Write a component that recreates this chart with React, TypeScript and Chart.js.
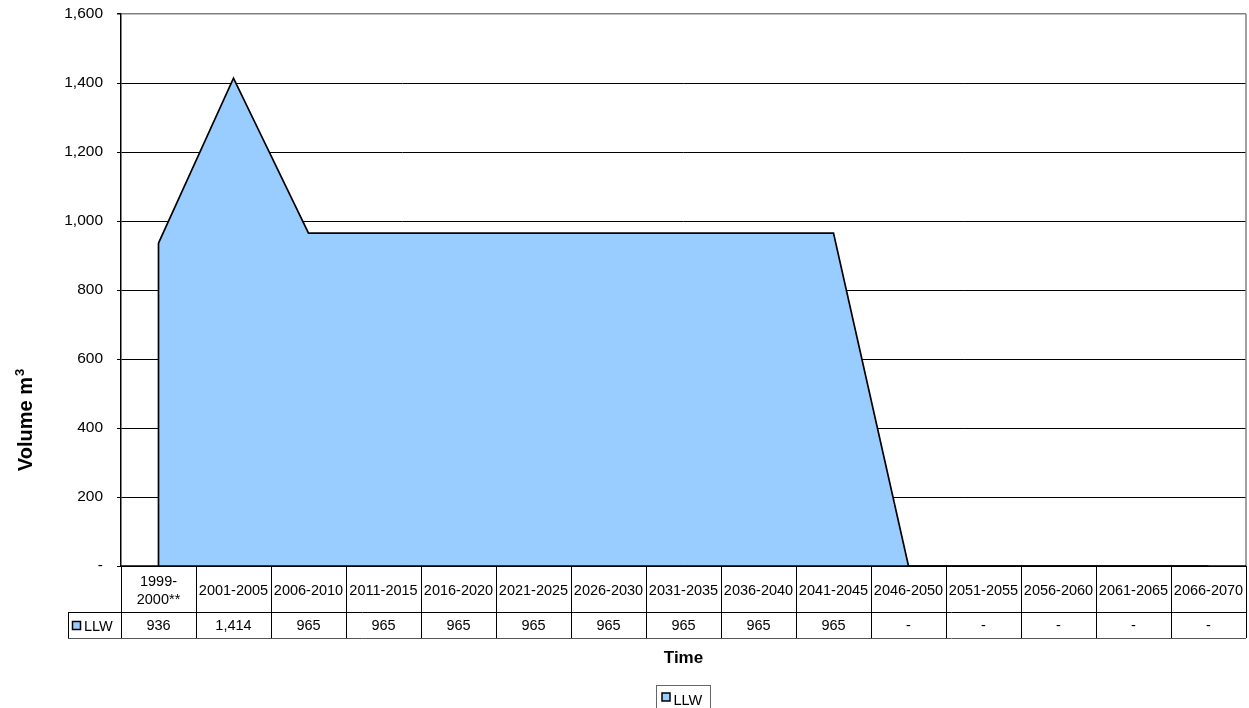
import React, { useEffect, useRef } from "react";
import { Chart, registerables } from "chart.js";

Chart.register(...registerables);

const categories: (string | string[])[] = [
  ["1999-", "2000**"],
  "2001-2005",
  "2006-2010",
  "2011-2015",
  "2016-2020",
  "2021-2025",
  "2026-2030",
  "2031-2035",
  "2036-2040",
  "2041-2045",
  "2046-2050",
  "2051-2055",
  "2056-2060",
  "2061-2065",
  "2066-2070",
];
const seriesName = "LLW";
const llwValues = [936, 1414, 965, 965, 965, 965, 965, 965, 965, 965, 0, 0, 0, 0, 0];
const yMin = 0;
const yMax = 1600;
const yStep = 200;
const xTitle = "Time";
const yTitleMain = "Volume m";
const yTitleSup = "3";

const FONT = "'Liberation Sans', Arial, sans-serif";
const FILL = "#99CCFF";

const fmt = (v: number) => (v === 0 ? "-" : v.toLocaleString("en-US"));

const tablePlugin = {
  id: "dataTable",
  afterDatasetsDraw(chart: any) {
    const { ctx, chartArea: ca, scales } = chart;
    const x = scales.x;
    const y = scales.y;
    ctx.save();
    // left vertical edge of area
    ctx.strokeStyle = "#000";
    ctx.lineWidth = 1.7;
    const x0 = x.getPixelForValue(0);
    ctx.beginPath();
    ctx.moveTo(x0, y.getPixelForValue(llwValues[0]));
    ctx.lineTo(x0, y.getPixelForValue(0));
    ctx.stroke();
    // right border grey
    ctx.strokeStyle = "#808080";
    ctx.lineWidth = 1.5;
    ctx.beginPath();
    ctx.moveTo(ca.right, ca.top);
    ctx.lineTo(ca.right, ca.bottom);
    ctx.stroke();
    // bottom axis line
    ctx.strokeStyle = "#000";
    ctx.lineWidth = 1.5;
    ctx.beginPath();
    ctx.moveTo(ca.left, ca.bottom);
    ctx.lineTo(ca.right, ca.bottom);
    ctx.stroke();
    ctx.restore();
  },
  afterDraw(chart: any) {
    const { ctx, chartArea: ca, scales } = chart;
    const x = scales.x;
    const n = categories.length;
    const half = (x.getPixelForValue(1) - x.getPixelForValue(0)) / 2;
    const r0 = ca.bottom;
    const r1 = r0 + 46;
    const r2 = r1 + 26;
    const headLeft = ca.left - 53;
    ctx.save();
    ctx.strokeStyle = "#000";
    ctx.lineWidth = 1;
    // horizontal lines
    ctx.beginPath();
    ctx.moveTo(headLeft, Math.round(r1) + 0.5);
    ctx.lineTo(ca.right, Math.round(r1) + 0.5);
    ctx.stroke();
    ctx.strokeStyle = "#555";
    ctx.beginPath();
    ctx.moveTo(headLeft, Math.round(r2) + 0.5);
    ctx.lineTo(ca.right, Math.round(r2) + 0.5);
    ctx.stroke();
    ctx.strokeStyle = "#000";
    // vertical lines
    for (let i = 0; i <= n; i++) {
      const bx = i < n ? x.getPixelForValue(i) - half : x.getPixelForValue(n - 1) + half;
      const px = Math.round(bx) + 0.5;
      ctx.beginPath();
      ctx.moveTo(px, r0);
      ctx.lineTo(px, r2);
      ctx.stroke();
    }
    ctx.beginPath();
    ctx.moveTo(Math.round(headLeft) + 0.5, r1);
    ctx.lineTo(Math.round(headLeft) + 0.5, r2);
    ctx.stroke();

    // texts
    ctx.fillStyle = "#000";
    ctx.textAlign = "center";
    ctx.textBaseline = "middle";
    ctx.font = `14.5px ${FONT}`;
    const c1 = (r0 + r1) / 2 + 2;
    const c2 = (r1 + r2) / 2 + 1;
    categories.forEach((cat, i) => {
      const cx = x.getPixelForValue(i);
      const lines = Array.isArray(cat) ? cat : [cat];
      const lh = 18;
      lines.forEach((ln, j) => {
        ctx.fillText(ln, cx, c1 + (j - (lines.length - 1) / 2) * lh);
      });
      ctx.fillText(fmt(llwValues[i]), cx, c2);
    });
    // row header
    ctx.fillStyle = FILL;
    ctx.fillRect(headLeft + 4.5, c2 - 4.5, 8, 8);
    ctx.strokeStyle = "#000";
    ctx.lineWidth = 1.5;
    ctx.strokeRect(headLeft + 4.5, c2 - 4.5, 8, 8);
    ctx.fillStyle = "#000";
    ctx.textAlign = "left";
    ctx.fillText(seriesName, headLeft + 16, c2 + 1);

    // x title
    ctx.font = `bold 17px ${FONT}`;
    ctx.textAlign = "center";
    ctx.fillText(xTitle, (ca.left + ca.right) / 2, r2 + 20);

    // legend
    const lgLeft = 656.5;
    const lgTop = r2 + 47.5;
    ctx.strokeStyle = "#666";
    ctx.lineWidth = 1;
    ctx.strokeRect(lgLeft, lgTop, 54, 30);
    ctx.fillStyle = FILL;
    ctx.fillRect(lgLeft + 5.5, lgTop + 7.5, 8, 8);
    ctx.strokeStyle = "#000";
    ctx.lineWidth = 1.5;
    ctx.strokeRect(lgLeft + 5.5, lgTop + 7.5, 8, 8);
    ctx.fillStyle = "#000";
    ctx.font = `14.5px ${FONT}`;
    ctx.textAlign = "left";
    ctx.textBaseline = "middle";
    ctx.fillText(seriesName, lgLeft + 17, lgTop + 15);

    // y title (rotated)
    ctx.save();
    ctx.font = `bold 20px ${FONT}`;
    const w = ctx.measureText(yTitleMain).width;
    ctx.font = `bold 13px ${FONT}`;
    const w3 = ctx.measureText(yTitleSup).width;
    const total = w + 1 + w3;
    const centerY = 420;
    ctx.translate(32, centerY + total / 2);
    ctx.rotate(-Math.PI / 2);
    ctx.textAlign = "left";
    ctx.textBaseline = "alphabetic";
    ctx.font = `bold 20px ${FONT}`;
    ctx.fillText(yTitleMain, 0, 0);
    ctx.font = `bold 13px ${FONT}`;
    ctx.fillText(yTitleSup, w + 1, -8);
    ctx.restore();

    ctx.restore();
  },
};

export default function App() {
  const ref = useRef<HTMLCanvasElement | null>(null);
  useEffect(() => {
    if (!ref.current) return;
    Chart.defaults.font.family = FONT;
    Chart.defaults.color = "#000";
    const chart = new Chart(ref.current, {
      type: "line",
      data: {
        labels: categories as any,
        datasets: [
          {
            label: seriesName,
            data: llwValues,
            borderColor: "#000",
            borderWidth: 1.7,
            backgroundColor: FILL,
            fill: "origin",
            pointRadius: 0,
            tension: 0,
          },
        ],
      },
      options: {
        responsive: false,
        animation: false,
        layout: { padding: { top: 14, right: 3, bottom: 142, left: 0 } },
        plugins: { legend: { display: false }, tooltip: { enabled: false }, title: { display: false } },
        scales: {
          x: {
            type: "category",
            offset: true,
            display: false,
            grid: { display: false },
          },
          y: {
            min: yMin,
            max: yMax,
            afterFit: (s: any) => {
              s.width = 121;
              s.paddingTop = 0;
              s.paddingBottom = 0;
            },
            ticks: {
              stepSize: yStep,
              padding: 14,
              color: "#000",
              font: { size: 15.5, family: FONT },
              callback: (v: any) => fmt(Number(v)),
            },
            grid: {
              color: (c: any) => (c.tick && c.tick.value === yMax ? "#808080" : "#000"),
              lineWidth: (c: any) => (c.tick && c.tick.value === yMax ? 1.5 : 1),
              tickColor: "#000",
              tickLength: 4,
              drawTicks: true,
            },
            border: { color: "#000", width: 1.5 },
          },
        },
      },
      plugins: [tablePlugin],
    });
    return () => chart.destroy();
  }, []);
  return (
    <div style={{ position: "fixed", left: 0, top: 0, width: 1249, height: 708, background: "#fff" }}>
      <canvas ref={ref} width={1249} height={708} style={{ display: "block" }} />
    </div>
  );
}
